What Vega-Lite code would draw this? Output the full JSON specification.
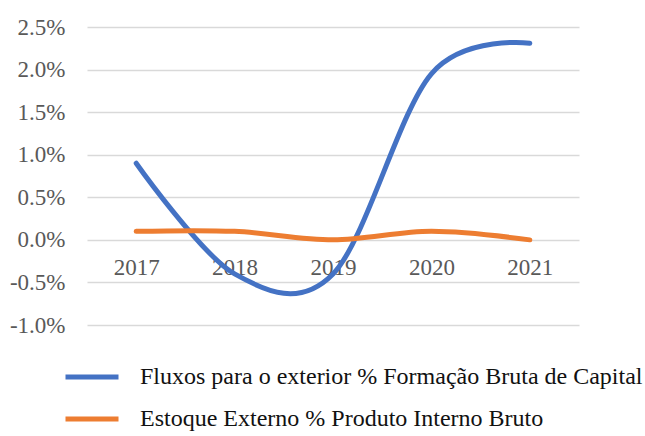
{
  "$schema": "https://vega.github.io/schema/vega-lite/v6.json",
  "width": 492,
  "height": 298,
  "autosize": "none",
  "padding": {"left": 87, "top": 27, "right": 66, "bottom": 111},
  "background": "white",
  "config": {"font": "Liberation Serif", "view": {"stroke": null}},
  "data": {
    "values": [
      {"year": "2017", "series": "Fluxos para o exterior % Formação Bruta de Capital", "value": 0.009},
      {"year": "2018", "series": "Fluxos para o exterior % Formação Bruta de Capital", "value": -0.004},
      {"year": "2019", "series": "Fluxos para o exterior % Formação Bruta de Capital", "value": -0.004},
      {"year": "2020", "series": "Fluxos para o exterior % Formação Bruta de Capital", "value": 0.0195},
      {"year": "2021", "series": "Fluxos para o exterior % Formação Bruta de Capital", "value": 0.0231},
      {"year": "2017", "series": "Estoque Externo % Produto Interno Bruto", "value": 0.001},
      {"year": "2018", "series": "Estoque Externo % Produto Interno Bruto", "value": 0.001},
      {"year": "2019", "series": "Estoque Externo % Produto Interno Bruto", "value": 0.0},
      {"year": "2020", "series": "Estoque Externo % Produto Interno Bruto", "value": 0.001},
      {"year": "2021", "series": "Estoque Externo % Produto Interno Bruto", "value": 0.0}
    ]
  },
  "mark": {"type": "line", "interpolate": "cardinal", "tension": 0, "strokeWidth": 5, "strokeCap": "round"},
  "encoding": {
    "x": {
      "field": "year",
      "type": "ordinal",
      "scale": {"type": "point", "padding": 0.5},
      "axis": {
        "title": null,
        "domain": false,
        "ticks": false,
        "grid": false,
        "offset": -85,
        "labelAngle": 0,
        "labelFont": "Liberation Serif",
        "labelFontSize": 23,
        "labelColor": "#595959",
        "labelPadding": 16
      }
    },
    "y": {
      "field": "value",
      "type": "quantitative",
      "scale": {"domain": [-0.01, 0.025], "nice": false, "zero": false},
      "axis": {
        "title": null,
        "format": ".1%",
        "labelExpr": "replace(datum.label, '−', '-')",
        "values": [-0.01, -0.005, 0, 0.005, 0.01, 0.015, 0.02, 0.025],
        "domain": false,
        "ticks": false,
        "gridColor": "#d9d9d9",
        "gridWidth": 1.5,
        "labelFont": "Liberation Serif",
        "labelFontSize": 23,
        "labelColor": "#595959",
        "labelPadding": 22
      }
    },
    "color": {
      "field": "series",
      "type": "nominal",
      "scale": {
        "domain": ["Fluxos para o exterior % Formação Bruta de Capital", "Estoque Externo % Produto Interno Bruto"],
        "range": ["#4472C4", "#ED7D31"]
      },
      "legend": {
        "title": null,
        "orient": "none",
        "legendX": -24,
        "legendY": 335,
        "direction": "vertical",
        "symbolType": "stroke",
        "symbolSize": 2809,
        "symbolStrokeWidth": 5,
        "labelFont": "Liberation Serif",
        "labelFontSize": 24,
        "labelColor": "#111111",
        "labelLimit": 0,
        "labelOffset": 19,
        "clipHeight": 30,
        "rowPadding": 12
      }
    }
  }
}
